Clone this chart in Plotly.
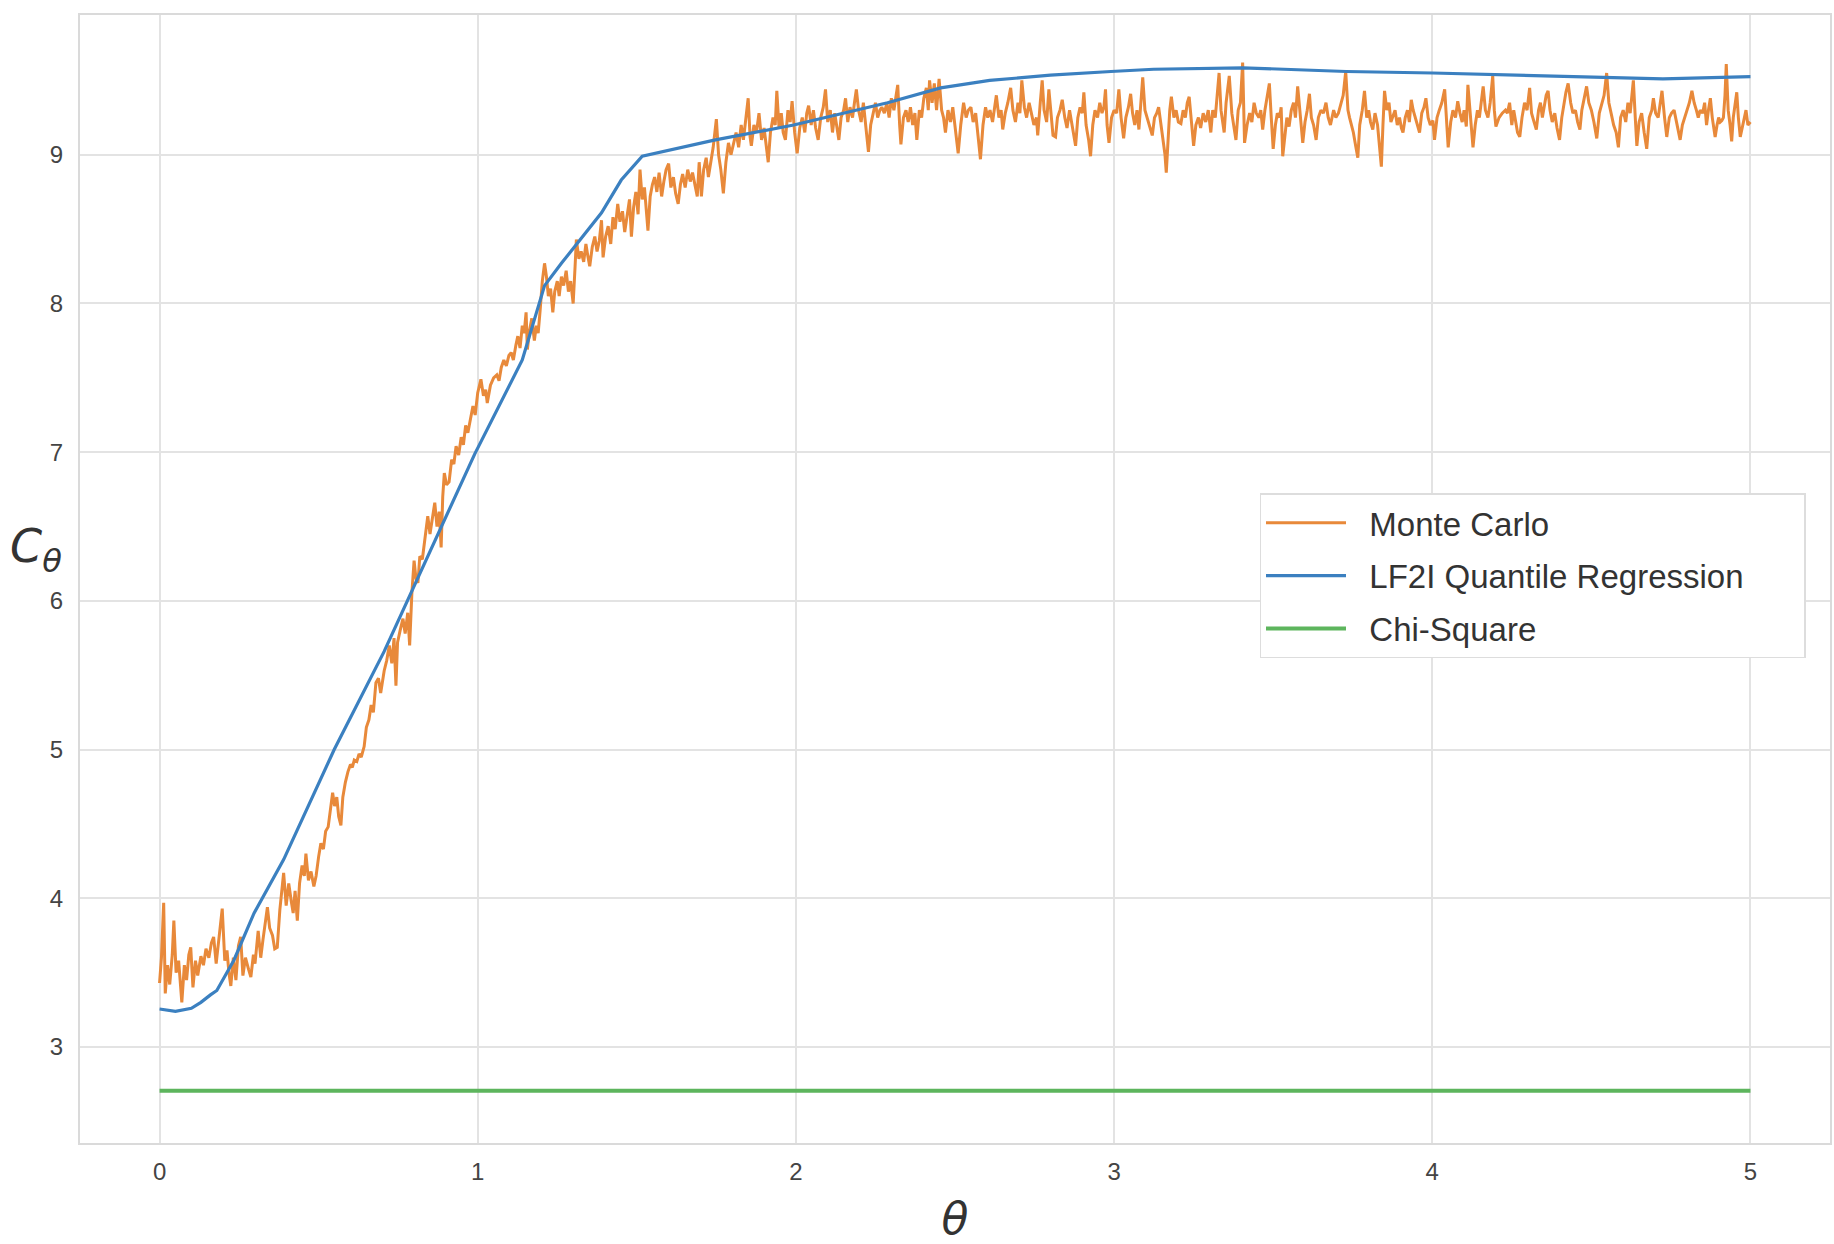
import plotly.graph_objs as go

# Monte Carlo critical values (noisy)
mc_theta = [
    0.000, 0.006, 0.013, 0.018, 0.025, 0.032, 0.040, 0.045, 0.052, 0.060, 0.070, 0.078, 0.085, 0.092, 0.098, 0.105,
    0.113, 0.120, 0.130, 0.138, 0.146, 0.155, 0.163, 0.170, 0.178, 0.186, 0.197, 0.205, 0.212, 0.218, 0.224, 0.232,
    0.240, 0.248, 0.255, 0.262, 0.270, 0.280, 0.287, 0.295, 0.300, 0.310, 0.318, 0.325, 0.332, 0.339, 0.346, 0.355,
    0.362, 0.370, 0.378, 0.385, 0.390, 0.398, 0.406, 0.414, 0.420, 0.426, 0.433, 0.440, 0.448, 0.455, 0.460, 0.468,
    0.476, 0.485, 0.492, 0.500, 0.507, 0.515, 0.522, 0.530, 0.537, 0.544, 0.550, 0.557, 0.563, 0.570, 0.576, 0.584,
    0.592, 0.600, 0.606, 0.612, 0.620, 0.627, 0.634, 0.643, 0.650, 0.658, 0.665, 0.672, 0.680, 0.688, 0.695, 0.706,
    0.714, 0.722, 0.730, 0.737, 0.743, 0.748, 0.756, 0.765, 0.772, 0.780, 0.786, 0.793, 0.800, 0.806, 0.812, 0.818,
    0.826, 0.834, 0.843, 0.850, 0.858, 0.865, 0.872, 0.879, 0.885, 0.890, 0.895, 0.902, 0.910, 0.918, 0.925, 0.932,
    0.940, 0.948, 0.955, 0.962, 0.969, 0.977, 0.985, 0.992, 1.000, 1.010, 1.018, 1.025, 1.030, 1.040, 1.050, 1.060,
    1.067, 1.074, 1.082, 1.090, 1.098, 1.105, 1.112, 1.120, 1.126, 1.133, 1.140, 1.146, 1.152, 1.156, 1.163, 1.170,
    1.178, 1.184, 1.190, 1.196, 1.203, 1.210, 1.216, 1.222, 1.229, 1.236, 1.242, 1.250, 1.256, 1.263, 1.270, 1.278,
    1.285, 1.292, 1.300, 1.306, 1.310, 1.318, 1.325, 1.333, 1.340, 1.346, 1.352, 1.360, 1.368, 1.375, 1.382, 1.389,
    1.394, 1.402, 1.410, 1.418, 1.425, 1.432, 1.440, 1.447, 1.455, 1.462, 1.470, 1.477, 1.483, 1.490, 1.497, 1.504,
    1.510, 1.517, 1.524, 1.530, 1.535, 1.542, 1.549, 1.556, 1.563, 1.570, 1.578, 1.585, 1.592, 1.600, 1.607, 1.615,
    1.622, 1.630, 1.637, 1.644, 1.652, 1.660, 1.668, 1.675, 1.682, 1.690, 1.696, 1.703, 1.710, 1.718, 1.725, 1.733,
    1.740, 1.750, 1.757, 1.764, 1.772, 1.780, 1.788, 1.796, 1.803, 1.812, 1.820, 1.828, 1.835, 1.843, 1.850, 1.856,
    1.860, 1.868, 1.876, 1.884, 1.892, 1.900, 1.907, 1.913, 1.920, 1.928, 1.935, 1.940, 1.947, 1.954, 1.960, 1.967,
    1.975, 1.982, 1.988, 1.996, 2.004, 2.012, 2.020, 2.028, 2.034, 2.040, 2.048, 2.055, 2.062, 2.070, 2.078, 2.086,
    2.093, 2.100, 2.108, 2.115, 2.122, 2.128, 2.135, 2.142, 2.150, 2.156, 2.163, 2.170, 2.178, 2.184, 2.190, 2.197,
    2.205, 2.212, 2.220, 2.228, 2.235, 2.242, 2.250, 2.257, 2.264, 2.270, 2.278, 2.286, 2.293, 2.300, 2.308, 2.315,
    2.320, 2.326, 2.330, 2.338, 2.346, 2.353, 2.360, 2.367, 2.374, 2.380, 2.388, 2.395, 2.402, 2.410, 2.416, 2.420,
    2.428, 2.435, 2.442, 2.450, 2.458, 2.464, 2.470, 2.478, 2.486, 2.493, 2.500, 2.510, 2.518, 2.527, 2.535, 2.542,
    2.550, 2.557, 2.565, 2.572, 2.580, 2.588, 2.596, 2.603, 2.610, 2.618, 2.625, 2.630, 2.638, 2.645, 2.650, 2.658,
    2.666, 2.675, 2.682, 2.690, 2.698, 2.704, 2.710, 2.718, 2.725, 2.733, 2.740, 2.748, 2.756, 2.760, 2.768, 2.774,
    2.780, 2.788, 2.795, 2.802, 2.808, 2.816, 2.822, 2.830, 2.837, 2.845, 2.852, 2.860, 2.868, 2.879, 2.886, 2.893,
    2.900, 2.905, 2.912, 2.920, 2.926, 2.933, 2.940, 2.948, 2.955, 2.962, 2.968, 2.973, 2.978, 2.984, 2.992, 3.000,
    3.008, 3.015, 3.022, 3.030, 3.037, 3.045, 3.052, 3.058, 3.065, 3.072, 3.078, 3.084, 3.090, 3.097, 3.104, 3.112,
    3.120, 3.127, 3.134, 3.140, 3.147, 3.155, 3.160, 3.164, 3.170, 3.175, 3.180, 3.188, 3.195, 3.202, 3.210, 3.217,
    3.224, 3.230, 3.236, 3.243, 3.250, 3.257, 3.265, 3.272, 3.280, 3.288, 3.296, 3.304, 3.310, 3.318, 3.325, 3.330,
    3.336, 3.346, 3.352, 3.362, 3.370, 3.376, 3.383, 3.390, 3.397, 3.404, 3.410, 3.418, 3.426, 3.433, 3.440, 3.447,
    3.455, 3.461, 3.467, 3.474, 3.481, 3.488, 3.494, 3.500, 3.507, 3.513, 3.520, 3.525, 3.530, 3.537, 3.543, 3.550,
    3.557, 3.564, 3.570, 3.577, 3.585, 3.593, 3.600, 3.607, 3.614, 3.620, 3.627, 3.635, 3.642, 3.650, 3.658, 3.666,
    3.673, 3.680, 3.690, 3.697, 3.705, 3.713, 3.720, 3.728, 3.735, 3.740, 3.745, 3.752, 3.760, 3.766, 3.772, 3.780,
    3.787, 3.794, 3.800, 3.806, 3.813, 3.820, 3.828, 3.834, 3.840, 3.845, 3.850, 3.857, 3.864, 3.870, 3.876, 3.883,
    3.890, 3.897, 3.903, 3.908, 3.915, 3.922, 3.928, 3.934, 3.940, 3.947, 3.954, 3.960, 3.967, 3.974, 3.980, 3.987,
    3.994, 4.002, 4.007, 4.015, 4.022, 4.030, 4.039, 4.045, 4.050, 4.058, 4.065, 4.073, 4.080, 4.087, 4.094, 4.100,
    4.107, 4.112, 4.120, 4.128, 4.135, 4.142, 4.148, 4.154, 4.160, 4.167, 4.175, 4.182, 4.190, 4.195, 4.200, 4.210,
    4.220, 4.230, 4.236, 4.243, 4.250, 4.256, 4.262, 4.268, 4.275, 4.282, 4.290, 4.298, 4.306, 4.312, 4.320, 4.327,
    4.334, 4.340, 4.346, 4.352, 4.358, 4.364, 4.370, 4.377, 4.385, 4.392, 4.400, 4.407, 4.414, 4.420, 4.427, 4.435,
    4.442, 4.450, 4.457, 4.464, 4.470, 4.478, 4.485, 4.492, 4.500, 4.508, 4.517, 4.525, 4.533, 4.540, 4.548, 4.555,
    4.562, 4.570, 4.578, 4.585, 4.592, 4.600, 4.608, 4.615, 4.622, 4.632, 4.638, 4.643, 4.650, 4.658, 4.666, 4.674,
    4.682, 4.690, 4.695, 4.702, 4.710, 4.716, 4.722, 4.730, 4.737, 4.745, 4.752, 4.760, 4.767, 4.773, 4.779, 4.786,
    4.793, 4.800, 4.808, 4.816, 4.823, 4.830, 4.836, 4.842, 4.850, 4.856, 4.862, 4.868, 4.874, 4.880, 4.885, 4.889,
    4.895, 4.900, 4.905, 4.910, 4.915, 4.920, 4.924, 4.930, 4.936, 4.941, 4.946, 4.952, 4.957, 4.962, 4.968, 4.974,
    4.980, 4.986, 4.992, 5.000,
]
mc_value = [
    3.43, 3.60, 3.97, 3.36, 3.55, 3.42, 3.62, 3.85, 3.50, 3.58, 3.30, 3.55, 3.45, 3.62, 3.67, 3.40,
    3.58, 3.48, 3.61, 3.55, 3.66, 3.60, 3.70, 3.74, 3.56, 3.70, 3.93, 3.58, 3.65, 3.50, 3.41, 3.60,
    3.45, 3.68, 3.74, 3.48, 3.60, 3.52, 3.47, 3.62, 3.56, 3.78, 3.60, 3.72, 3.85, 3.94, 3.80, 3.75,
    3.66, 3.67, 3.92, 4.05, 4.17, 3.95, 4.10, 3.98, 3.90, 4.05, 3.85, 4.10, 4.22, 4.15, 4.30, 4.12,
    4.18, 4.08, 4.15, 4.28, 4.37, 4.33, 4.45, 4.48, 4.60, 4.71, 4.62, 4.68, 4.55, 4.49, 4.68, 4.78,
    4.85, 4.90, 4.88, 4.93, 4.92, 4.97, 4.95, 5.02, 5.15, 5.20, 5.30, 5.25, 5.45, 5.48, 5.38, 5.53,
    5.60, 5.70, 5.58, 5.75, 5.43, 5.72, 5.80, 5.88, 5.78, 5.92, 5.70, 6.05, 6.27, 6.15, 6.12, 6.30,
    6.28, 6.42, 6.57, 6.45, 6.55, 6.66, 6.50, 6.60, 6.36, 6.70, 6.86, 6.78, 6.80, 6.95, 6.92, 7.04,
    6.98, 7.10, 7.05, 7.18, 7.13, 7.22, 7.31, 7.25, 7.40, 7.49, 7.38, 7.42, 7.33, 7.45, 7.50, 7.52,
    7.48, 7.57, 7.62, 7.58, 7.65, 7.67, 7.62, 7.72, 7.78, 7.70, 7.85, 7.80, 7.94, 7.69, 7.82, 7.90,
    7.75, 7.85, 7.80, 7.95, 8.15, 8.27, 8.18, 8.05, 8.10, 7.94, 8.08, 8.15, 8.05, 8.18, 8.12, 8.22,
    8.08, 8.15, 8.00, 8.25, 8.43, 8.30, 8.35, 8.28, 8.40, 8.32, 8.25, 8.38, 8.45, 8.35, 8.42, 8.56,
    8.31, 8.45, 8.52, 8.40, 8.58, 8.50, 8.67, 8.55, 8.62, 8.48, 8.60, 8.70, 8.45, 8.65, 8.75, 8.60,
    8.90, 8.70, 8.78, 8.62, 8.49, 8.72, 8.80, 8.85, 8.75, 8.88, 8.72, 8.82, 8.90, 8.94, 8.78, 8.85,
    8.74, 8.67, 8.80, 8.87, 8.78, 8.90, 8.82, 8.88, 8.80, 8.72, 8.95, 8.72, 8.90, 8.98, 8.85, 8.95,
    9.05, 9.24, 9.00, 8.90, 8.74, 8.95, 9.08, 9.00, 9.06, 9.15, 9.05, 9.20, 9.10, 9.25, 9.38, 9.12,
    9.06, 9.20, 9.15, 9.28, 9.10, 9.18, 9.05, 8.95, 9.15, 9.25, 9.20, 9.43, 9.18, 9.28, 9.15, 9.10,
    9.30, 9.22, 9.36, 9.15, 9.01, 9.18, 9.25, 9.15, 9.28, 9.33, 9.20, 9.30, 9.18, 9.10, 9.25, 9.32,
    9.44, 9.22, 9.30, 9.15, 9.28, 9.20, 9.10, 9.25, 9.30, 9.38, 9.22, 9.32, 9.25, 9.35, 9.44, 9.30,
    9.22, 9.35, 9.18, 9.02, 9.20, 9.28, 9.35, 9.25, 9.30, 9.32, 9.28, 9.35, 9.25, 9.38, 9.30, 9.40,
    9.47, 9.20, 9.07, 9.25, 9.30, 9.22, 9.32, 9.20, 9.28, 9.10, 9.30, 9.25, 9.38, 9.45, 9.30, 9.50,
    9.35, 9.48, 9.30, 9.51, 9.30, 9.25, 9.15, 9.30, 9.22, 9.32, 9.18, 9.01, 9.20, 9.35, 9.25, 9.30,
    9.32, 9.22, 9.28, 9.15, 8.97, 9.20, 9.32, 9.25, 9.30, 9.22, 9.35, 9.40, 9.25, 9.30, 9.17, 9.28,
    9.35, 9.45, 9.30, 9.22, 9.35, 9.28, 9.50, 9.32, 9.25, 9.35, 9.28, 9.20, 9.25, 9.13, 9.35, 9.50,
    9.30, 9.22, 9.44, 9.25, 9.13, 9.12, 9.25, 9.30, 9.37, 9.25, 9.18, 9.30, 9.20, 9.06, 9.25, 9.32,
    9.28, 9.42, 9.20, 9.10, 8.99, 9.20, 9.30, 9.25, 9.35, 9.28, 9.32, 9.44, 9.20, 9.08, 9.25, 9.30,
    9.28, 9.44, 9.25, 9.11, 9.25, 9.32, 9.41, 9.28, 9.20, 9.30, 9.17, 9.35, 9.52, 9.30, 9.25, 9.18,
    9.13, 9.25, 9.28, 9.32, 9.22, 9.10, 9.00, 8.88, 9.15, 9.30, 9.39, 9.25, 9.30, 9.22, 9.21, 9.30,
    9.25, 9.35, 9.39, 9.20, 9.06, 9.20, 9.25, 9.18, 9.28, 9.22, 9.30, 9.15, 9.30, 9.25, 9.42, 9.55,
    9.30, 9.15, 9.35, 9.53, 9.28, 9.20, 9.10, 9.30, 9.35, 9.62, 9.08, 9.20, 9.28, 9.22, 9.35, 9.28,
    9.25, 9.30, 9.17, 9.30, 9.38, 9.48, 9.25, 9.04, 9.20, 9.28, 9.25, 9.32, 8.99, 9.15, 9.25, 9.19,
    9.30, 9.35, 9.25, 9.46, 9.25, 9.08, 9.22, 9.30, 9.41, 9.25, 9.20, 9.10, 9.25, 9.30, 9.28, 9.35,
    9.25, 9.20, 9.30, 9.25, 9.28, 9.35, 9.40, 9.56, 9.30, 9.25, 9.21, 9.15, 9.05, 8.98, 9.20, 9.30,
    9.43, 9.25, 9.30, 9.22, 9.17, 9.28, 9.20, 9.05, 8.92, 9.20, 9.43, 9.30, 9.35, 9.22, 9.26, 9.30,
    9.20, 9.25, 9.18, 9.15, 9.25, 9.30, 9.22, 9.37, 9.30, 9.25, 9.20, 9.15, 9.28, 9.32, 9.38, 9.25,
    9.20, 9.23, 9.10, 9.25, 9.30, 9.35, 9.44, 9.20, 9.05, 9.22, 9.30, 9.25, 9.36, 9.28, 9.22, 9.30,
    9.19, 9.47, 9.25, 9.05, 9.20, 9.30, 9.25, 9.35, 9.46, 9.30, 9.25, 9.35, 9.53, 9.30, 9.19, 9.25,
    9.28, 9.30, 9.28, 9.35, 9.20, 9.30, 9.22, 9.15, 9.12, 9.25, 9.35, 9.30, 9.45, 9.28, 9.22, 9.17,
    9.30, 9.35, 9.25, 9.32, 9.40, 9.43, 9.30, 9.22, 9.28, 9.18, 9.10, 9.25, 9.35, 9.42, 9.48, 9.35,
    9.28, 9.30, 9.22, 9.17, 9.30, 9.38, 9.46, 9.35, 9.30, 9.22, 9.11, 9.28, 9.35, 9.40, 9.55, 9.35,
    9.28, 9.20, 9.15, 9.05, 9.25, 9.30, 9.22, 9.35, 9.28, 9.50, 9.25, 9.06, 9.22, 9.28, 9.15, 9.04,
    9.25, 9.30, 9.38, 9.28, 9.25, 9.35, 9.43, 9.25, 9.12, 9.25, 9.28, 9.30, 9.22, 9.15, 9.10, 9.20,
    9.25, 9.30, 9.35, 9.43, 9.35, 9.30, 9.25, 9.30, 9.28, 9.35, 9.20, 9.30, 9.38, 9.25, 9.18, 9.12,
    9.20, 9.25, 9.22, 9.23, 9.25, 9.40, 9.61, 9.30, 9.20, 9.09, 9.25, 9.35, 9.42, 9.25, 9.12, 9.18,
    9.23, 9.30, 9.20, 9.22,
]

# LF2I quantile regression estimate
lf2i_theta = [0.0, 0.05, 0.10, 0.13, 0.16, 0.18, 0.234, 0.297, 0.39, 0.549, 0.706, 0.838, 0.99, 1.14, 1.21,
              1.263, 1.389, 1.451, 1.517, 1.747, 1.993, 2.288, 2.455, 2.609, 2.80, 2.99, 3.124, 3.404, 3.73,
              4.001, 4.207, 4.57, 4.725, 5.0]
lf2i_value = [3.255, 3.24, 3.26, 3.30, 3.35, 3.38, 3.585, 3.90, 4.26, 5.00, 5.66, 6.27, 6.985, 7.62, 8.12,
              8.27, 8.61, 8.83, 8.99, 9.10, 9.20, 9.35, 9.45, 9.50, 9.535, 9.56, 9.575, 9.585, 9.56,
              9.55, 9.54, 9.52, 9.51, 9.525]

# chi-square cutoff (constant)
chi_theta = [0.0, 5.0]
chi_value = [2.706, 2.706]

orange = "#E8893A"
blue = "#3B80C0"
green = "#5DB55D"
grid = "#E3E3E3"

# legend labels; nbsp padding gives the roomier legend box of the original
pad = "\u00a0\u00a0"
tail = "\u00a0" * 6

trace_mc = go.Scatter(x=mc_theta, y=mc_value, mode="lines", name=pad + "Monte Carlo",
                      line=dict(color=orange, width=3), legendgroup="a")
trace_lf2i = go.Scatter(x=lf2i_theta, y=lf2i_value, mode="lines", name=pad + "LF2I Quantile Regression" + tail,
                        line=dict(color=blue, width=3.2), legendgroup="b")
trace_chi = go.Scatter(x=chi_theta, y=chi_value, mode="lines", name=pad + "Chi-Square",
                       line=dict(color=green, width=4), legendgroup="c")

axis_style = dict(
    showgrid=True, gridcolor=grid, gridwidth=1.5, zeroline=False,
    showline=True, linecolor="#DADADA", linewidth=2, mirror=True,
    ticks="", automargin=False,
    tickfont=dict(family="Liberation Sans, Arial", size=24, color="#444444"),
)

layout = go.Layout(
    width=1834, height=1244,
    paper_bgcolor="white", plot_bgcolor="white",
    margin=dict(l=80, r=4, t=15, b=101),
    xaxis=dict(range=[-0.25, 5.25], tickvals=[0, 1, 2, 3, 4, 5], ticklabelstandoff=6,
               title=dict(text="<i>θ</i>", font=dict(family="DejaVu Sans", size=44, color="#333333"),
                          standoff=20),
               **axis_style),
    yaxis=dict(range=[2.354, 9.94], tickvals=[3, 4, 5, 6, 7, 8, 9], ticklabelstandoff=10, **axis_style),
    legend=dict(x=0.674, y=0.576, xanchor="left", yanchor="top",
                bgcolor="white", bordercolor="#DDDDDD", borderwidth=1.5,
                font=dict(family="Liberation Sans, Arial", size=33, color="#333333"),
                itemwidth=80, tracegroupgap=7, traceorder="grouped"),
    annotations=[dict(text="<i>C</i><sub><i>θ</i></sub>", xref="paper", yref="paper",
                      x=-0.025, y=0.526, xanchor="center", yanchor="middle", showarrow=False,
                      font=dict(family="DejaVu Sans", size=46, color="#333333"))],
)

fig = go.Figure(data=[trace_mc, trace_lf2i, trace_chi], layout=layout)
# drop the default body margin so the figure sits at the page corner
fig.write_html("out.html", config={"displayModeBar": False},
               post_script="document.body.style.margin='0';")
